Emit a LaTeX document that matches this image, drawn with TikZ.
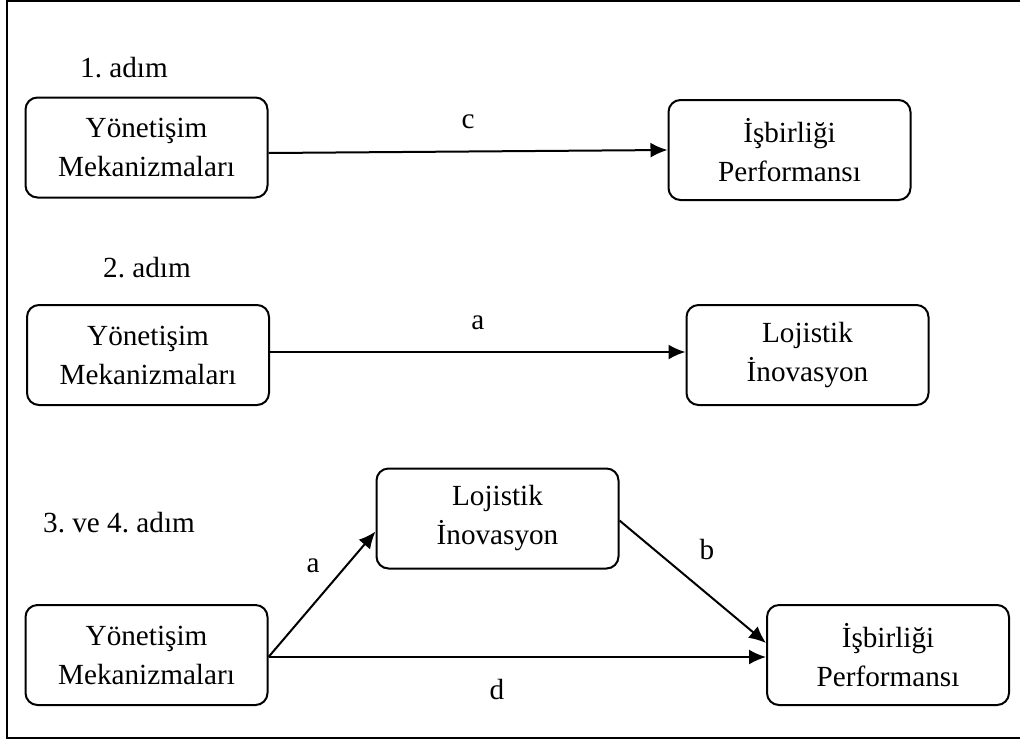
\documentclass[tikz,border=0pt]{standalone}
\usepackage{fontspec}
\setmainfont{Liberation Serif}
\usetikzlibrary{arrows.meta}
\newcommand{\boxfont}{\fontsize{14.6pt}{19.5pt}\selectfont}
\frenchspacing
\begin{document}
\begin{tikzpicture}[x=0.5pt,y=-0.5pt,
  stepbox/.style={draw, line width=1pt, rounded corners=6pt,
    minimum width=121pt, minimum height=50pt, inner sep=0pt,
    align=center, font=\boxfont},
  link/.style={line width=1pt, -{Latex[length=8.5pt,width=7.5pt]}},
  tag/.style={font=\boxfont, inner sep=0pt}]
\useasboundingbox (0,0) rectangle (1020,740);
% frame
\draw[line width=0.6pt] (1020,1) -- (7,1) -- (7,738) -- (1020,738);

% step 1
\node[tag] (t1) at (124,68) {1. adım};
\node[stepbox] (g1) at (146.5,147.5) {Yönetişim\\Mekanizmaları};
\node[stepbox] (p1) at (789.5,150) {İşbirliği\\Performansı};
\draw[link] ([yshift=-2.75pt]g1.east) -- node[tag, above=11pt] (c) {c} (p1.west);

% step 2
\node[tag] (t2) at (147,268) {2. adım};
\node[stepbox] (g2) at (148,355) {Yönetişim\\Mekanizmaları};
\node[stepbox] (l2) at (807.5,355) {Lojistik\\İnovasyon};
\draw[link] ([yshift=1.5pt]g2.east) -- node[tag, above=10.5pt] (a1) {a} ([yshift=1.5pt]l2.west);

% steps 3 and 4
\node[tag] (t3) at (119,523) {3. ve 4. adım};
\node[stepbox] (l3) at (497.5,518.5) {Lojistik\\İnovasyon};
\node[stepbox] (g3) at (146.5,655) {Yönetişim\\Mekanizmaları};
\node[stepbox] (p3) at (888,655) {İşbirliği\\Performansı};
\draw[link] ([yshift=-1pt]g3.east) -- ([yshift=-6.5pt]l3.west);
\draw[link] ([yshift=-1pt]l3.east) -- ([yshift=6pt]p3.west);
\draw[link] ([yshift=-1pt]g3.east) -- ([yshift=-1pt]p3.west);
\node[tag] (a2) at (313,566) {a};
\node[tag] (b) at (707,549) {b};
\node[tag] (d) at (497,689) {d};
\end{tikzpicture}
\end{document}
